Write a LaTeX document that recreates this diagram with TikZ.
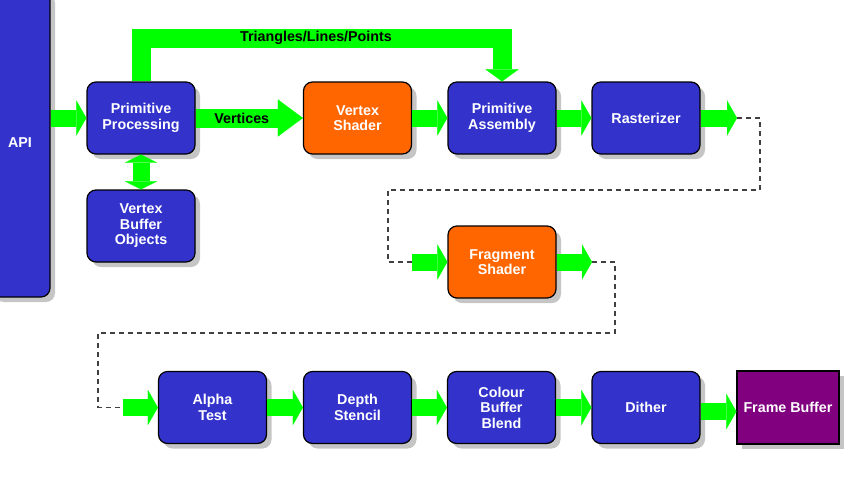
\documentclass[tikz,border=0pt]{standalone}
\usepackage{fontspec}
\setmainfont{Liberation Sans}
\usetikzlibrary{arrows.meta, shadows}
\definecolor{stageblue}{RGB}{51,51,204}
\definecolor{shaderorange}{RGB}{255,102,0}
\definecolor{fbpurple}{RGB}{128,0,128}
\definecolor{flowgreen}{RGB}{0,255,0}

\begin{document}
\begin{tikzpicture}[x=1pt,y=-1pt,
  stage/.style={rectangle,draw=black,line width=1.2pt,fill=stageblue,rounded corners=9pt, minimum width=108pt,minimum height=72pt,align=center,text=white,font=\bfseries\fontsize{14.3}{15.5}\selectfont, drop shadow={shadow xshift=5pt,shadow yshift=-5pt,fill=black!45,opacity=0.5}},
  shader/.style={stage,fill=shaderorange},
  fbox/.style={stage,fill=fbpurple,sharp corners,minimum width=102pt,minimum height=73pt},
  flow/.style={draw=flowgreen,line width=17pt,-{Triangle[length=10pt,width=35pt,line width=0.1pt]}},
  lbl/.style={text=black,font=\bfseries\fontsize{14.3}{15.5}\selectfont},
  link/.style={draw=black!75,line width=1.6pt,dash pattern=on 5pt off 4pt}
]
  \useasboundingbox (0,0) rectangle (854,480);
  \clip (0,0) rectangle (854,480);

  \node[stage,minimum width=60pt,minimum height=308pt] (api) at (20,143) {API};
  \node[stage] (pp)    at (141,118)   {Primitive\\Processing};
  \node[stage] (vbo)   at (141,226)   {Vertex\\Buffer\\Objects};
  \node[shader](vs)    at (357.5,118) {Vertex\\Shader};
  \node[stage] (pa)    at (502,118)   {Primitive\\Assembly};
  \node[stage] (ras)   at (646,118)   {Rasterizer};
  \node[shader](fs)    at (502,262)   {Fragment\\Shader};
  \node[stage] (alpha) at (212.5,407.5) {Alpha\\Test};
  \node[stage] (ds)    at (357.5,407.5) {Depth\\Stencil};
  \node[stage] (cbb)   at (501.5,407.5) {Colour\\Buffer\\Blend};
  \node[stage] (dit)   at (646,407.5) {Dither};
  \node[fbox]  (fb)    at (788,407.5) {Frame Buffer};

  \coordinate (tlp)    at (316,38);
  \coordinate (rasout) at (737,118);
  \coordinate (fsin)   at (412,262);
  \coordinate (fsout)  at (592,262);
  \coordinate (alin)   at (123,407.5);

  \draw[link](rasout) -| (760,190) -| (388,262) -- (fsin);
  \draw[link](fsout) -| (615,333) -| (98,407.5) -- (alin);

  \draw[flow](pp.west -| api.east) -- (pp.west);
  \draw[flow,line width=19pt,-{Triangle[length=25pt,width=37pt,line width=0.1pt]}](pp) -- node[lbl,pos=0.43]{Vertices} (vs);
  \draw[flow,line width=19pt,-{Triangle[length=12pt,width=33pt,line width=0.1pt]}](pp.north) |- (tlp) node[lbl]{Triangles/Lines/Points} -| (pa.north);
  \draw[flow,{Triangle[length=8pt,width=32pt,line width=0.1pt]}-{Triangle[length=8pt,width=32pt,line width=0.1pt]}](pp) -- (vbo);
  \draw[flow](vs) -- (pa);
  \draw[flow](pa) -- (ras);
  \draw[flow](ras) -- (rasout);
  \draw[flow](fsin) -- (fs);
  \draw[flow](fs) -- (fsout);
  \draw[flow](alin) -- (alpha);
  \draw[flow](alpha) -- (ds);\draw[flow](ds) -- (cbb);\draw[flow](cbb) -- (dit);
  \draw[flow]([yshift=-4pt]dit.east) -- ([yshift=-4pt]fb.west);
\end{tikzpicture}
\end{document}
